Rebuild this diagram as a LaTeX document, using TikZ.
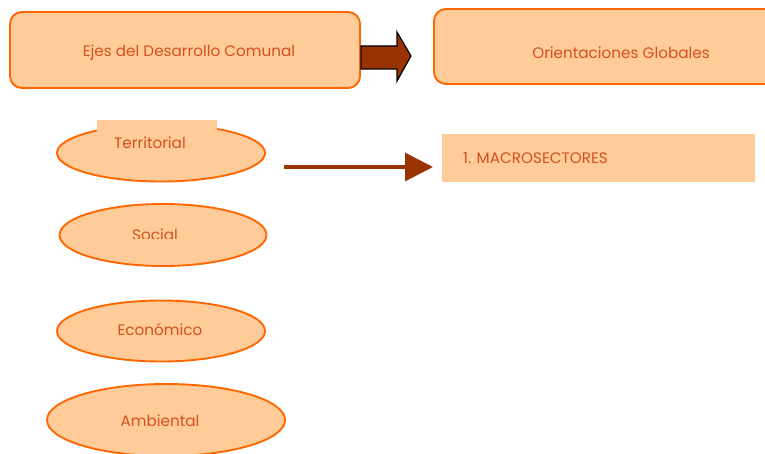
\documentclass[tikz,border=0pt]{standalone}
\usepackage{fontspec}
\setmainfont{Poppins}
\usetikzlibrary{shapes.geometric,arrows.meta}
\definecolor{durazno}{HTML}{FFCC99}
\definecolor{naranja}{HTML}{FF6600}
\definecolor{ladrillo}{HTML}{993300}
\definecolor{letra}{HTML}{D4501E}
\tikzset{
	caja/.style={draw=naranja, fill=durazno, line width=1.6pt, rounded corners=0.36cm},
	eje/.style={ellipse, draw=naranja, fill=durazno, line width=1.6pt},
	rotulo/.style={text=letra, font=\fontsize{13}{15}\selectfont, inner sep=0pt},
	flecha/.style={draw=ladrillo, line width=2.8pt, -{Triangle[length=0.84cm, width=0.84cm]}}
}
\begin{document}
\begin{tikzpicture}[x=0.03cm, y=-0.03cm]
		\useasboundingbox (0,0) rectangle (765,454);
		
		% cajas de arriba
		\node [caja, minimum width=10.5cm, minimum height=2.28cm] (ejes) at (185,50) {};
		\node [rotulo] (ejestxt) at (189,53) {Ejes del Desarrollo Comunal};
		
		\node [caja, minimum width=10.98cm, minimum height=2.25cm] (orient) at (617,46.5) {};
		\node [rotulo] (orienttxt) at (621,53) {Orientaciones Globales};
		
		\filldraw [fill=ladrillo, draw=black, line width=1pt] (361,46) -- (397,46) -- (397,32) -- (411,56) -- (397,81) -- (397,69) -- (361,69) -- cycle;
		
		% ejes
		\node [eje, minimum width=6.24cm, minimum height=1.71cm] (territorial) at (161,153) {};
		\node [fill=durazno, minimum width=3.6cm, minimum height=1.38cm, inner sep=0pt] (terrcaja) at (157,143) {};
		\node [rotulo] (terrtxt) at (150,143) {Territorial};
		
		\node [eje, minimum width=6.21cm, minimum height=1.86cm] (social) at (163,235) {};
		\begin{scope}
			\clip (0,0) rectangle (765,238);
			\node [rotulo] (socialtxt) at (155,234.5) {Social};
		\end{scope}
		
		\node [eje, minimum width=6.24cm, minimum height=1.83cm] (economico) at (161,331) {};
		\node [rotulo] (econtxt) at (160,330) {Económico};
		
		\node [eje, minimum width=7.14cm, minimum height=2.16cm] (ambiental) at (166,420) {};
		\node [rotulo] (ambtxt) at (160,421) {Ambiental};
		
		% macrosectores
		\node [fill=durazno, minimum width=9.39cm, minimum height=1.44cm, inner sep=0pt] (macro) at (598.5,158) {};
		\node [rotulo, anchor=west] (macrotxt) at (463,158) {1. MACROSECTORES};
		
		\coordinate (inicio) at (284,167);
		\coordinate (fin) at (433,167);
		\draw [flecha] (inicio) -- (fin);
		
		\end{tikzpicture}
\end{document}
